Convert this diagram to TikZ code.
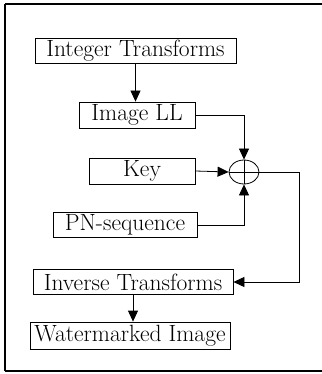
\documentclass[tikz,border=0pt]{standalone}
\usetikzlibrary{arrows.meta,shapes.geometric}

\begin{document}
\begin{tikzpicture}[x=1pt,y=-1pt,
  every node/.style={font=\fontsize{23.5}{26}\selectfont},
  box/.style={draw,line width=.8pt,inner sep=0pt,minimum height=25pt},
  arr/.style={line width=.8pt,-{Triangle[length=11pt,width=10pt]}},
  wire/.style={line width=.8pt}]
\useasboundingbox (0,0) rectangle (321,374);
\draw[line width=1.1pt] (5,4)--(330,4);
\draw[line width=1.1pt] (5,4)--(5,371);
\draw[line width=1.1pt] (5,371)--(330,371);
\node[box,minimum width=201pt] (it) at (135.5,51) {Integer Transforms};
\node[box,minimum width=116pt,minimum height=26pt] (ll) at (137,115) {Image LL};
\node[box,minimum width=106pt,minimum height=26pt] (key) at (142,171) {Key};
\node[box,minimum width=144pt] (pn) at (125,225) {PN-sequence};
\node[box,minimum width=200pt] (inv) at (133,282) {Inverse Transforms};
\node[box,minimum width=200pt,minimum height=27pt] (wm) at (130,335.5) {Watermarked Image};
\node[draw,ellipse,line width=.8pt,inner sep=0pt,minimum width=30pt,minimum height=24pt] (sum) at (244,172) {};
\draw[line width=.5pt] (sum.north)--(sum.south);
\draw[line width=.5pt] (sum.west)--(sum.east);
\coordinate (turn) at (299,172);
\draw[arr] (it.south)--(it.south |- ll.north);
\draw[arr] (ll.east)-|(sum.north);
\draw[arr] (key.east)--(sum.west);
\draw[arr] (pn.east)-|(sum.south);
\draw[wire] (sum.east)--(turn);
\draw[arr] (turn)|-(inv.east);
\draw[arr] (inv.south)--(inv.south |- wm.north);
\end{tikzpicture}
\end{document}
